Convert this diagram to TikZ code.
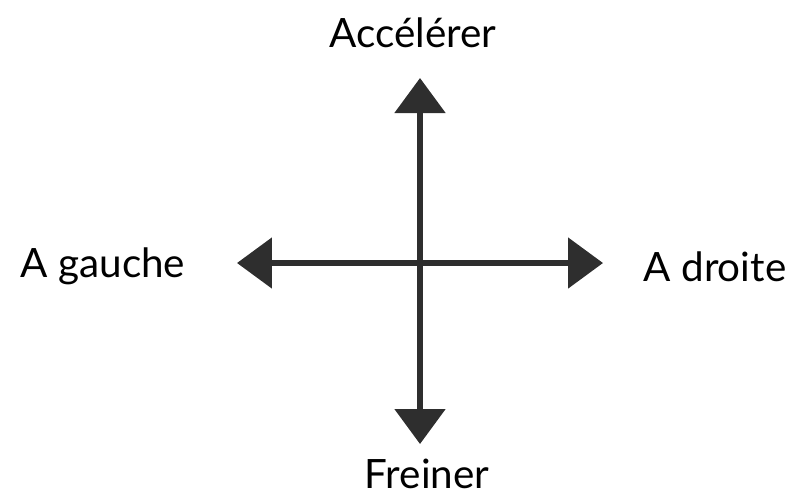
\documentclass[tikz,border=0pt]{standalone}
\usepackage{fontspec}
\setmainfont{Lato}
\usetikzlibrary{arrows.meta}
\definecolor{inkgrey}{HTML}{2E2E2E}
\tikzset{
  axe/.style={line width=3pt, draw=inkgrey, -{Triangle[width=1cm,length=0.7cm]}},
  label/.style={anchor=base, inner sep=0pt, font=\fontsize{23}{27}\selectfont}
}
\begin{document}
\begin{tikzpicture}[x=0.02cm, y=-0.02cm]
        \useasboundingbox (0, 0) rectangle (793, 498);

        \coordinate (centre) at (420, 263);
        \coordinate (haut) at (420, 78);
        \coordinate (bas) at (420, 444);
        \coordinate (gauche) at (237, 263);
        \coordinate (droite) at (603, 263);

        \draw[axe] (centre) -- (haut);
        \draw[axe] (centre) -- (bas);
        \draw[axe] (centre) -- (gauche);
        \draw[axe] (centre) -- (droite);

        \node[label] (accel) at (413, 47) {Accélérer};
        \node[label] (frein) at (427, 488) {Freiner};
        \node[label] (agauche) at (103, 277) {A gauche};
        \node[label] (adroite) at (715, 281) {A droite};
    \end{tikzpicture}
\end{document}
